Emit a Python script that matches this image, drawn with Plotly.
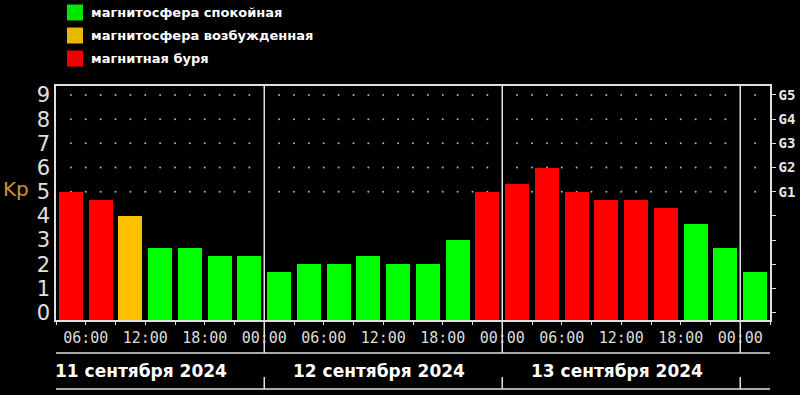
import pandas as pd
import plotly.graph_objects as go

# ---------------- data ----------------
interval_start = pd.date_range("2024-09-11 03:00", periods=24, freq="3h")
kp_values = [5.0, 4.67, 4.0, 2.67, 2.67, 2.33, 2.33,
             1.67, 2.0, 2.0, 2.33, 2.0, 2.0, 3.0, 5.0,
             5.33, 6.0, 5.0, 4.67, 4.67, 4.33, 3.67, 2.67,
             1.67]
status = ["storm", "storm", "excited", "calm", "calm", "calm", "calm",
          "calm", "calm", "calm", "calm", "calm", "calm", "calm", "storm",
          "storm", "storm", "storm", "storm", "storm", "storm", "calm", "calm",
          "calm"]
status_colors = {"calm": "#00ff00", "excited": "#ffc000", "storm": "#ff0000"}
legend_labels = ["магнитосфера спокойная", "магнитосфера возбужденная", "магнитная буря"]
legend_colors = ["#00e600", "#e6b800", "#f00000"]
day_labels = ["11 сентября 2024", "12 сентября 2024", "13 сентября 2024"]
day_label_pos = ["2024-09-11 11:36", "2024-09-12 11:36", "2024-09-13 11:36"]
midnights = ["2024-09-12 00:00", "2024-09-13 00:00", "2024-09-14 00:00"]
kp_ticks = list(range(10))
g_labels = ["", "", "", "", "", "G1", "G2", "G3", "G4", "G5"]

X_START, X_END = "2024-09-11 03:00", "2024-09-14 03:00"
Y_MIN, Y_MAX = -0.30, 9.37
HOUR_MS = 3600 * 1000

W, H = 800, 395
ML, MR, MT, MB = 56, 30, 86, 75
PW, PH = W - ML - MR, H - MT - MB


def px_x(px):
    return (px - ML) / PW


def px_y(py):
    return (H - MB - py) / PH


LINE = "#e0e0e0"

fig = go.Figure()
fig.add_trace(go.Bar(
    x=interval_start,
    y=[v - Y_MIN for v in kp_values],
    base=Y_MIN,
    width=2.42 * HOUR_MS,
    offset=0.3 * HOUR_MS,
    marker=dict(color=[status_colors[s] for s in status], line=dict(width=0)),
    hoverinfo="skip",
    showlegend=False,
))
# helper trace so the right-hand G-scale axis is drawn
fig.add_trace(go.Scatter(x=[X_START], y=[0], yaxis="y2", mode="markers",
                         marker=dict(opacity=0), hoverinfo="skip", showlegend=False))

# x ticks every 3 hours, labels every 6 hours
tick_times = pd.date_range(X_START, X_END, freq="3h")
tick_text = [t.strftime("%H:%M") if t.hour % 6 == 0 else "" for t in tick_times]

shapes = []
# dotted grid at G levels (behind bars)
dot_times = pd.date_range(X_START, X_END, freq="90min")
for lvl in range(5, 10):
    for t in dot_times[1:-1]:
        if t.hour == 0 and t.minute == 0:
            continue
        shapes.append(dict(type="circle", xref="x", yref="y", layer="below",
                           xsizemode="pixel", ysizemode="pixel",
                           xanchor=t, yanchor=lvl, x0=-1, x1=1, y0=-1, y1=1,
                           fillcolor="#b0b0b0", line=dict(width=0)))
# day separators
for m in midnights:
    shapes.append(dict(type="line", xref="x", yref="paper", x0=m, x1=m,
                       y0=px_y(353), y1=1, line=dict(color=LINE, width=1.5)))
    shapes.append(dict(type="line", xref="x", yref="paper", x0=m, x1=m,
                       y0=px_y(389), y1=px_y(377), line=dict(color=LINE, width=1.5)))
# horizontal lines under the axis
for py in (353, 389):
    shapes.append(dict(type="line", xref="paper", yref="paper", x0=0, x1=1,
                       y0=px_y(py), y1=px_y(py), line=dict(color=LINE, width=1.5)))

annotations = []
# legend
for i, (lab, col) in enumerate(zip(legend_labels, legend_colors)):
    yc = 12.5 + i * 23
    shapes.append(dict(type="rect", xref="paper", yref="paper",
                       x0=px_x(67), x1=px_x(83), y0=px_y(yc - 8), y1=px_y(yc + 8),
                       fillcolor=col, line=dict(width=0)))
    annotations.append(dict(xref="paper", yref="paper", x=px_x(89), y=px_y(yc),
                            text=lab, showarrow=False, xanchor="left", yanchor="middle",
                            font=dict(family="DejaVu Sans", size=13, color="white", weight="bold")))
# day labels
for lab, pos in zip(day_labels, day_label_pos):
    annotations.append(dict(xref="x", yref="paper", x=pos, y=px_y(371), text=lab,
                            showarrow=False, xanchor="center", yanchor="middle",
                            font=dict(family="DejaVu Sans", size=17, color="white", weight="bold")))
# Kp label
annotations.append(dict(xref="paper", yref="y", x=px_x(16), y=5.1, text="Kp",
                        showarrow=False, xanchor="center", yanchor="middle",
                        font=dict(family="DejaVu Sans", size=20, color="#d4903c")))

fig.update_layout(
    width=W, height=H,
    margin=dict(l=ML, r=MR, t=MT, b=MB),
    paper_bgcolor="black", plot_bgcolor="black",
    showlegend=False,
    bargap=0,
    shapes=shapes,
    annotations=annotations,
    xaxis=dict(type="date", range=[X_START, X_END], tickvals=tick_times, ticktext=tick_text,
               ticks="outside", ticklen=3, tickcolor=LINE, tickwidth=1,
               showline=True, linecolor=LINE, linewidth=1.5, mirror=True,
               showgrid=False, zeroline=False, automargin=False,
               tickfont=dict(family="DejaVu Sans Mono", size=15, color="#dcdcdc")),
    yaxis=dict(range=[Y_MIN, Y_MAX], tickvals=kp_ticks, ticks="",
               showline=True, linecolor=LINE, linewidth=1.5,
               showgrid=False, zeroline=False, ticklabelstandoff=0, automargin=False,
               tickfont=dict(family="DejaVu Sans", size=21, color="#e0e0e0")),
    yaxis2=dict(range=[Y_MIN, Y_MAX], overlaying="y", side="right", anchor="x",
                tickvals=kp_ticks, ticktext=g_labels,
                ticks="outside", ticklen=4, tickcolor=LINE,
                showline=True, linecolor=LINE, linewidth=1.5,
                showgrid=False, zeroline=False, automargin=False,
                tickfont=dict(family="DejaVu Sans Mono", size=14, color="#e6e6e6", weight="bold")),
)

fig.write_html("out.html", config={"displayModeBar": False},
               post_script="document.body.style.margin='0';document.body.style.background='black';")
